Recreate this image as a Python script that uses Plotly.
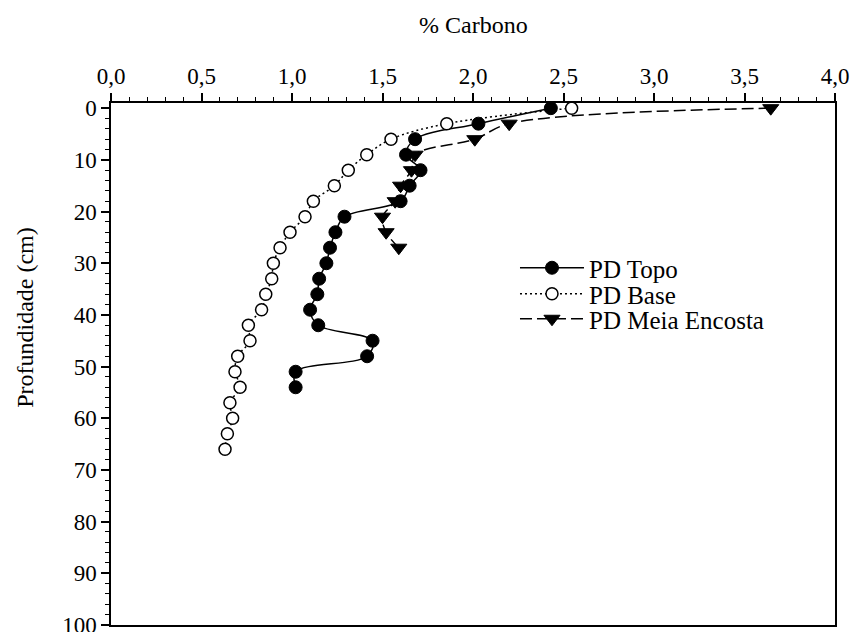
import plotly.graph_objects as go

# Depths (cm)
depth_topo = [0, 3, 6, 9, 12, 15, 18, 21, 24, 27, 30, 33, 36, 39, 42, 45, 48, 51, 54]
carbon_topo = [2.43, 2.03, 1.68, 1.63, 1.71, 1.65, 1.60, 1.29, 1.24, 1.21, 1.19, 1.15, 1.14,
               1.10, 1.145, 1.445, 1.415, 1.02, 1.02]

depth_base = [0, 3, 6, 9, 12, 15, 18, 21, 24, 27, 30, 33, 36, 39, 42, 45, 48, 51, 54,
              57, 60, 63, 66]
carbon_base = [2.545, 1.855, 1.547, 1.413, 1.311, 1.234, 1.118, 1.072, 0.989, 0.934, 0.897,
               0.888, 0.855, 0.832, 0.759, 0.768, 0.700, 0.685, 0.713, 0.657, 0.672, 0.643,
               0.630]

depth_meia = [0, 3, 6, 9, 12, 15, 18, 21, 24, 27]
carbon_meia = [3.645, 2.20, 2.01, 1.68, 1.66, 1.60, 1.57, 1.50, 1.52, 1.59]

x_ticks = [0, 0.5, 1.0, 1.5, 2.0, 2.5, 3.0, 3.5, 4.0]
x_tick_labels = ["0,0", "0,5", "1,0", "1,5", "2,0", "2,5", "3,0", "3,5", "4,0"]
y_ticks = [0, 10, 20, 30, 40, 50, 60, 70, 80, 90, 100]

FONT = "Liberation Serif, Times New Roman, serif"
FS_TICK = 23
FS_TITLE = 24
FS_LEG = 25

fig = go.Figure()

fig.add_trace(go.Scatter(
    x=carbon_topo, y=depth_topo, name="PD Topo", mode="lines+markers", legend="legend",
    line=dict(color="black", width=1.5, shape="spline", smoothing=1),
    marker=dict(symbol="circle", size=13, color="black", line=dict(color="black", width=1)),
))
fig.add_trace(go.Scatter(
    x=carbon_base, y=depth_base, name="PD Base", mode="lines+markers", legend="legend2",
    line=dict(color="black", width=1.5, dash="2px,3px", shape="spline", smoothing=1),
    marker=dict(symbol="circle", size=12, color="white", line=dict(color="black", width=1.5)),
))
fig.add_trace(go.Scatter(
    x=carbon_meia, y=depth_meia, name="PD Meia Encosta", mode="lines+markers", legend="legend3",
    line=dict(color="black", width=1.5, dash="12px,5px", shape="spline", smoothing=1),
    marker=dict(symbol="triangle-down", size=14, color="black", line=dict(color="black", width=1)),
))

axis_common = dict(
    showline=True, linecolor="black", linewidth=1.5, mirror=True,
    showgrid=False, zeroline=False,
    ticks="outside", ticklen=8, tickwidth=1.5, tickcolor="black",
    tickfont=dict(family=FONT, size=FS_TICK, color="black"),
    ticklabeloverflow="allow", automargin=False,
)

fig.update_xaxes(
    range=[0, 4], side="top", tickvals=x_ticks, ticktext=x_tick_labels,
    minor=dict(ticks="outside", ticklen=4, tickwidth=1, tickcolor="black", dtick=0.1),
    **axis_common,
)
fig.update_yaxes(
    range=[100, -1], tickvals=y_ticks,
    minor=dict(ticks="outside", ticklen=4, tickwidth=1, tickcolor="black", dtick=2, tick0=0),
    **axis_common,
)

H_PLOT = 522.0
def legend_cfg(y_px):
    return dict(
        x=0.558, y=(625 - y_px) / H_PLOT, xanchor="left", yanchor="middle",
        bgcolor="rgba(0,0,0,0)", borderwidth=0,
        font=dict(family=FONT, size=FS_LEG, color="black"),
        itemwidth=64,
    )

fig.update_layout(
    width=853, height=632,
    margin=dict(l=111, r=18, t=103, b=7, autoexpand=False),
    paper_bgcolor="white", plot_bgcolor="white",
    font=dict(family=FONT, size=FS_TICK, color="black"),
    showlegend=True,
    legend=legend_cfg(268),
    legend2=legend_cfg(294),
    legend3=legend_cfg(319),
    annotations=[
        dict(text="% Carbono", xref="paper", yref="paper", x=0.5, y=1.149,
             xanchor="center", yanchor="middle", showarrow=False,
             font=dict(family=FONT, size=FS_TITLE, color="black")),
        dict(text="Profundidade (cm)", xref="paper", yref="paper", x=-0.119, y=0.59,
             xanchor="center", yanchor="middle", showarrow=False, textangle=-90,
             font=dict(family=FONT, size=FS_TITLE, color="black")),
    ],
)

fig.write_html(
    "out.html",
    config={"displayModeBar": False},
    post_script="document.body.style.margin='0';document.body.style.padding='0';document.body.style.overflow='hidden';",
)
